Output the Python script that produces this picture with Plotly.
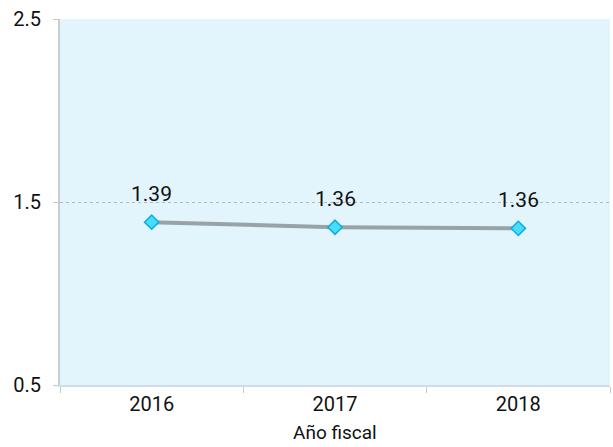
import plotly.graph_objects as go

years = ["2016", "2017", "2018"]
values = [1.39, 1.362, 1.356]
labels = ["1.39", "1.36", "1.36"]
y_ticks = [0.5, 1.5, 2.5]

FONT = "Roboto, sans-serif"

fig = go.Figure()
fig.add_trace(go.Scatter(
    x=years, y=values, mode="lines+markers",
    line=dict(color="#97a3a6", width=4),
    marker=dict(symbol="diamond", size=11, color="#45defe",
                line=dict(color="#17a9dc", width=1.5)),
    hoverinfo="skip", showlegend=False,
))

# value labels above each point (category index used for x)
for i, (v, t) in enumerate(zip(values, labels)):
    fig.add_annotation(x=i, y=v, text=t, showarrow=False, yshift=28,
                       font=dict(family=FONT, size=21, color="#111111"))

# axis title
fig.add_annotation(x=0.5, y=0, xref="paper", yref="paper", text="Año fiscal",
                   showarrow=False, yanchor="middle", yshift=-47,
                   font=dict(family=FONT, size=19, color="#111111"))

fig.update_layout(
    width=613, height=447,
    margin=dict(l=60, r=3, t=19, b=62),
    paper_bgcolor="white", plot_bgcolor="#e3f5fc",
    font=dict(family=FONT, size=20, color="#111111"),
)
fig.update_xaxes(
    type="category", range=[-0.5, 2.5], tickson="boundaries",
    ticks="outside", ticklen=6, tickcolor="#c8c8c8",
    showline=True, linecolor="#cfdde6", linewidth=2,
    showgrid=False, ticklabelstandoff=0,
)
fig.update_yaxes(
    range=[0.5, 2.5], tickvals=y_ticks, ticktext=[str(v) for v in y_ticks],
    ticks="outside", ticklen=5, tickcolor="#c8c8c8",
    showline=True, linecolor="#cccccc", linewidth=2,
    showgrid=True, gridcolor="#b8b8b8", griddash="dot", gridwidth=1,
    zeroline=False, ticklabelstandoff=8,
)

fig.write_html("out.html")
